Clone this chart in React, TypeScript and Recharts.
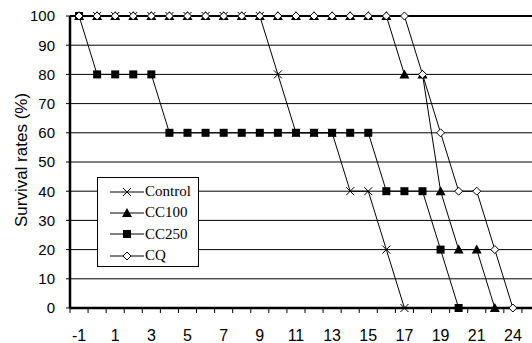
import { CartesianGrid, Label, Legend, Line, LineChart, ReferenceLine, XAxis, YAxis } from "recharts";

// days on the category axis (every other one gets a label)
const categories = ["-1", "0", "1", "2", "3", "4", "5", "6", "7", "8", "9", "10", "11", "12", "13", "14", "15", "16", "17", "18", "19", "20", "21", "22", "24"];

const control = [100, 100, 100, 100, 100, 100, 100, 100, 100, 100, 100, 80, 60, 60, 60, 40, 40, 20, 0, null, null, null, null, null, null];
const cc100 = [100, 100, 100, 100, 100, 100, 100, 100, 100, 100, 100, 100, 100, 100, 100, 100, 100, 100, 80, 80, 40, 20, 20, 0, null];
const cc250 = [100, 80, 80, 80, 80, 60, 60, 60, 60, 60, 60, 60, 60, 60, 60, 60, 60, 40, 40, 40, 20, 0, null, null, null];
const cq = [100, 100, 100, 100, 100, 100, 100, 100, 100, 100, 100, 100, 100, 100, 100, 100, 100, 100, 100, 80, 60, 40, 40, 20, 0];

const yTicks = [0, 10, 20, 30, 40, 50, 60, 70, 80, 90, 100];

const data = categories.map((day, i) => ({
  i,
  day,
  Control: control[i],
  CC100: cc100[i],
  CC250: cc250[i],
  CQ: cq[i],
}));

// tick marks sit between categories, like Excel
const boundaries = categories.map((_, i) => i - 0.5).concat([categories.length - 0.5]);

const CHART_W = 540;
const Y_AXIS_W = 70;
const X_MAX = categories.length + 0.5;
const CAT_W = (CHART_W - Y_AXIS_W) / (X_MAX + 0.5);

const sans = "'Liberation Sans', Arial, sans-serif";
const serif = "'Liberation Serif', 'Times New Roman', serif";

type Shape = "cross" | "triangle" | "square" | "diamond";

const marker = (shape: Shape, cx: number, cy: number, key?: string) => {
  if (shape === "cross")
    return (
      <g key={key}>
        <line x1={cx - 4} y1={cy - 4} x2={cx + 4} y2={cy + 4} stroke="#000" strokeWidth={1} />
        <line x1={cx - 4} y1={cy + 4} x2={cx + 4} y2={cy - 4} stroke="#000" strokeWidth={1} />
      </g>
    );
  if (shape === "triangle")
    return <polygon key={key} points={`${cx},${cy - 5} ${cx - 5},${cy + 4} ${cx + 5},${cy + 4}`} fill="#000" />;
  if (shape === "square") return <rect key={key} x={cx - 4} y={cy - 4} width={8} height={8} fill="#000" />;
  return (
    <polygon
      key={key}
      points={`${cx},${cy - 4} ${cx + 4},${cy} ${cx},${cy + 4} ${cx - 4},${cy}`}
      fill="#fff"
      stroke="#000"
      strokeWidth={1}
    />
  );
};

const dotFor = (shape: Shape) => (props: any) => {
  const { cx, cy, value, index } = props;
  const key = `${shape}-${index}`;
  if (value == null || cx == null || cy == null) return <g key={key} />;
  return marker(shape, cx, cy, key);
};

const series: { key: string; shape: Shape }[] = [
  { key: "Control", shape: "cross" },
  { key: "CC100", shape: "triangle" },
  { key: "CC250", shape: "square" },
  { key: "CQ", shape: "diamond" },
];

const BoundaryTick = (props: any) => {
  const { x, y, payload } = props;
  const idx = payload.value + 0.5;
  if (idx % 2 !== 0 || idx >= categories.length) return <g />;
  return (
    <text x={x + CAT_W / 2} y={y + 26} textAnchor="middle" fontFamily={sans} fontSize={16} fill="#000">
      {categories[idx]}
    </text>
  );
};

const LegendBox = () => (
  <div
    style={{
      border: "1px solid #000",
      background: "#fff",
      width: 102,
      height: 90,
      boxSizing: "border-box",
      padding: "3px 0 0 12px",
      fontFamily: serif,
      fontSize: 15,
      color: "#000",
    }}
  >
    {series.map((s) => (
      <div key={s.key} style={{ display: "flex", alignItems: "center", height: 21.3 }}>
        <svg width={34} height={12} style={{ marginRight: 1 }}>
          <line x1={0} y1={6} x2={34} y2={6} stroke="#000" strokeWidth={1} />
          {marker(s.shape, 17, 6)}
        </svg>
        <span>{s.key}</span>
      </div>
    ))}
  </div>
);

const App = () => {
  return (
    <div style={{ position: "absolute", left: 0, top: 0, width: 532, height: 343, overflow: "hidden", background: "#fff" }}>
      <LineChart width={CHART_W} height={343} data={data} margin={{ top: 16, right: 0, bottom: 0, left: 0 }}>
        <CartesianGrid vertical={false} stroke="#000" strokeWidth={1} />
        <ReferenceLine y={100} stroke="#000" strokeWidth={2} />
        <XAxis
          dataKey="i"
          type="number"
          domain={[-0.5, X_MAX]}
          ticks={boundaries}
          interval={0}
          height={35}
          tickSize={5}
          tick={<BoundaryTick />}
          tickLine={{ stroke: "#000" }}
          axisLine={{ stroke: "#000", strokeWidth: 2.5 }}
        />
        <YAxis
          domain={[0, 100]}
          ticks={yTicks}
          interval={0}
          width={Y_AXIS_W}
          tickSize={4}
          tickMargin={11}
          tick={{ fontFamily: sans, fontSize: 15, fill: "#000" }}
          tickLine={{ stroke: "#000" }}
          axisLine={{ stroke: "#000", strokeWidth: 2.5 }}
        >
          <Label
            content={() => (
              <text
                x={21}
                y={160}
                transform="rotate(-90 21 160)"
                textAnchor="middle"
                dominantBaseline="central"
                fontFamily={sans}
                fontSize={17}
                fill="#000"
              >
                Survival rates (%)
              </text>
            )}
          />
        </YAxis>
        {series.map((s) => (
          <Line
            key={s.key}
            dataKey={s.key}
            stroke="#000"
            strokeWidth={1}
            dot={dotFor(s.shape)}
            activeDot={false}
            isAnimationActive={false}
          />
        ))}
        <Legend
          layout="horizontal"
          verticalAlign="middle"
          align="center"
          content={<LegendBox />}
          wrapperStyle={{ position: "absolute", left: 97, top: 177, width: 102, height: 90 }}
        />
      </LineChart>
    </div>
  );
};

export default App;
